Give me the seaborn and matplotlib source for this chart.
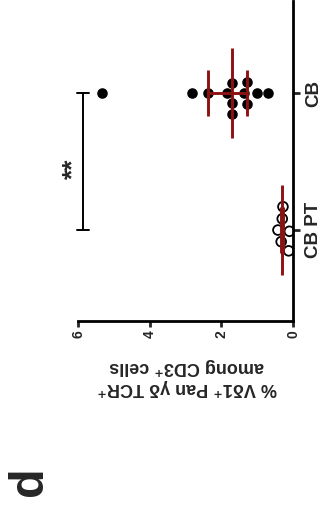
import numpy as np
import pandas as pd
import matplotlib
matplotlib.use("Agg")
import matplotlib.pyplot as plt
import seaborn as sns

# Groups and per-sample percentages
cats = ["CB PT", "CB"]
cbpt_vals = [0.42, 0.33, 0.30, 0.12, 0.10, 0.28]
cb_vals = [5.32, 2.83, 2.37, 1.85, 1.71, 1.36, 1.29, 1.01, 1.29, 0.69, 1.71, 1.71]
x_ticks = [0, 2, 4, 6]
x_ticklabels = ["0", "2", "4", "6"]
sig_label = "**"
panel_label = "d"
value_label = "% V\u03b41\u207a Pan \u03b3\u03b4 TCR\u207a\namong CD3\u207a cells"

sns.set_style("ticks")
plt.rcParams["font.family"] = ["Liberation Sans", "DejaVu Sans"]

df = pd.DataFrame({
    "group": ["CB PT"] * len(cbpt_vals) + ["CB"] * len(cb_vals),
    "value": cbpt_vals + cb_vals,
})

W, H = 327, 517
fig = plt.figure(figsize=(W / 100, H / 100), dpi=100)
# axes box in pixel units: value 6 at x=78, value 0 at x=293; top y=1, bottom y=321
ax = fig.add_axes([78 / W, 1 - 321 / H, 215 / W, 320 / H])

red = "#8c1212"

sns.swarmplot(data=df[df.group == "CB PT"], x="value", y="group", order=cats,
              orient="h", size=7, color="black", linewidth=1.3,
              edgecolor="black", ax=ax)
sns.swarmplot(data=df[df.group == "CB"], x="value", y="group", order=cats,
              orient="h", size=7.6, color="black", linewidth=0,
              ax=ax)
ax.collections[0].set_facecolor("none")
ax.collections[0].set_edgecolor("black")

# median with interquartile range
for i, vals in enumerate([cbpt_vals, cb_vals]):
    v = np.asarray(vals)
    q1, med, q3 = np.percentile(v, [25, 50, 75], method="higher")
    ax.plot([q1, q3], [i, i], color=red, lw=2.1, zorder=4, solid_capstyle="butt")
    ax.plot([med, med], [i - 0.33, i + 0.33], color=red, lw=2.1, zorder=4,
            solid_capstyle="butt")
    for q in (q1, q3):
        ax.plot([q, q], [i - 0.17, i + 0.17], color=red, lw=2.1, zorder=4,
                solid_capstyle="butt")

ax.set_xlim(6, 0)
ax.set_ylim(-0.664, 1.672)
ax.set_xlabel("")
ax.set_ylabel("")

for s in ("left", "top"):
    ax.spines[s].set_visible(False)
for s in ("right", "bottom"):
    ax.spines[s].set_linewidth(2)
    ax.spines[s].set_color("black")

ax.set_xticks(x_ticks)
ax.set_xticklabels(x_ticklabels, rotation=90, fontsize=10, fontweight="bold")
ax.tick_params(axis="x", direction="out", length=4.5, width=2, pad=2)

ax.yaxis.tick_right()
ax.set_yticks([0, 1])
ax.set_yticklabels(cats, rotation=90, fontsize=13.5, fontweight="bold",
                   va="center")
ax.tick_params(axis="y", direction="out", length=5, width=2, pad=4,
               left=False, right=True)

# significance bracket between the two groups
bx = 5.86
ax.plot([bx, bx], [0, 1], color="black", lw=1.4, clip_on=False)
for yy in (0, 1):
    ax.plot([bx - 0.18, bx + 0.18], [yy, yy], color="black", lw=1.4,
            clip_on=False)
ax.text(6.12, 0.45, sig_label, rotation=90, ha="center", va="center",
        fontsize=19, fontweight="bold")

fig.text(187 / W, 1 - 377 / H, value_label, rotation=180, ha="center",
         va="center", multialignment="center", fontsize=13,
         fontweight="bold", linespacing=1.3)
fig.text(30 / W, 1 - 481 / H, panel_label, rotation=90, ha="center",
         va="center", fontsize=35, fontweight="bold")

fig.savefig("out.png", dpi=100)
